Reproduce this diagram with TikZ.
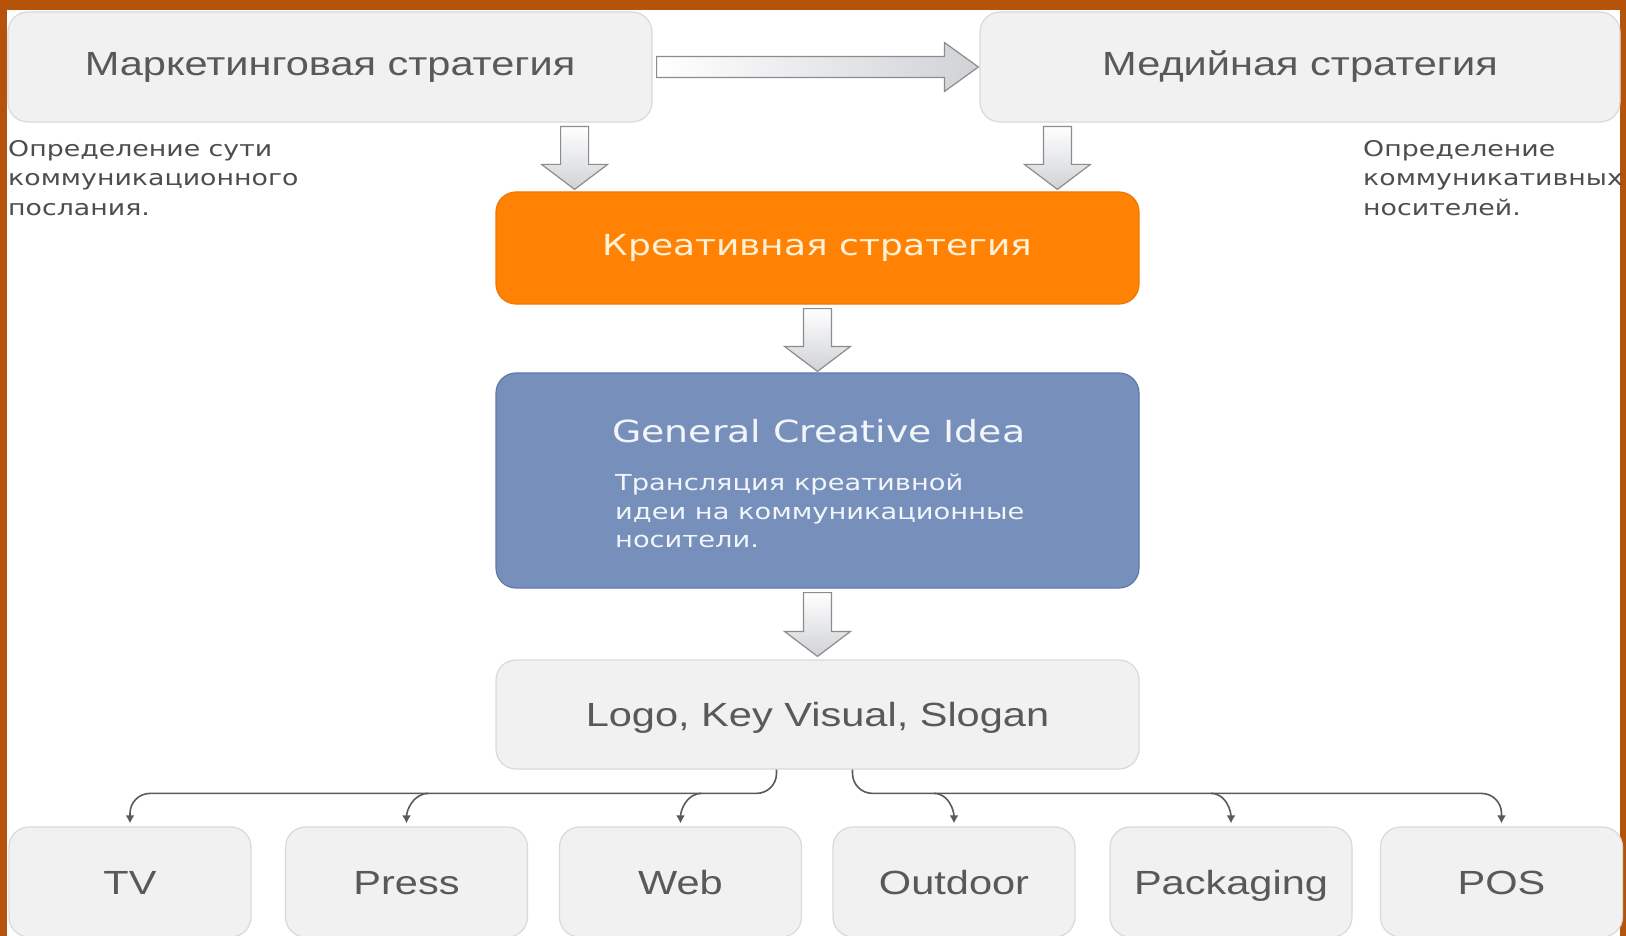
\documentclass[tikz,border=0pt]{standalone}
\usepackage{fontspec}
\setmainfont{Liberation Sans}[FakeStretch=1.24]
\newfontfamily\dejavu{DejaVu Sans}[FakeStretch=1.24]
\usepackage{tikz}
\usetikzlibrary{arrows.meta,calc,positioning}

\definecolor{bgorange}{HTML}{B5530B}
\definecolor{boxfill}{HTML}{F1F1F1}
\definecolor{boxline}{HTML}{D9D9D9}
\definecolor{labelgray}{HTML}{595959}
\definecolor{notegray}{HTML}{4D4D4D}
\definecolor{creativefill}{HTML}{FF8205}
\definecolor{creativeline}{HTML}{EC7800}
\definecolor{creativetext}{HTML}{FFF1D6}
\definecolor{gcifill}{HTML}{7690BB}
\definecolor{gciline}{HTML}{5F78A6}
\definecolor{gcitext}{HTML}{F2F5FA}
\definecolor{arrowline}{HTML}{8C8C8C}
\definecolor{arrowgray}{HTML}{D0D2D6}
\definecolor{connline}{HTML}{5A5A5A}

\tikzset{
  graybox/.style={draw=boxline, fill=boxfill, rounded corners=20pt, line width=1.2pt,
    inner sep=0pt, text=labelgray, font=\fontsize{33.5}{40}\selectfont},
  mediabox/.style={graybox, minimum width=242pt, minimum height=110pt,
    text height=24pt, text depth=0pt},
  creativebox/.style={draw=creativeline, fill=creativefill, rounded corners=20pt, line width=1.2pt,
    inner sep=0pt, minimum width=643pt, minimum height=112pt, text=creativetext,
    font=\dejavu\fontsize{29}{35}\selectfont},
  gcibox/.style={draw=gciline, fill=gcifill, rounded corners=20pt, line width=1.2pt,
    inner sep=0pt, minimum width=643pt, minimum height=215pt},
  gcititle/.style={inner sep=0pt, text=gcitext, font=\dejavu\fontsize{30.5}{36}\selectfont},
  gcibody/.style={inner sep=0pt, align=left, text=gcitext, font=\dejavu\fontsize{22}{28.5}\selectfont},
  notetext/.style={inner sep=0pt, align=left, text=notegray, font=\dejavu\fontsize{21.6}{29.5}\selectfont},
  blockarrow/.style={draw=arrowline, line width=1.2pt, line join=miter},
  conn/.style={draw=connline, line width=1.6pt, -{Latex[length=8pt,width=9pt]}, shorten >=3pt}
}

% hollow block arrows between two anchors
\newcommand{\blockdown}[2]{%
  \shadedraw[blockarrow, top color=white, bottom color=arrowgray]
    let \p1=(#1), \p2=(#2) in
    (\x1-14pt,\y1) -- (\x1+14pt,\y1) -- (\x1+14pt,\y2+25pt) -- (\x1+33pt,\y2+25pt)
    -- (\x1,\y2) -- (\x1-33pt,\y2+25pt) -- (\x1-14pt,\y2+25pt) -- cycle;}
\newcommand{\blockright}[2]{%
  \shadedraw[blockarrow, left color=white, middle color=white, right color=arrowgray]
    let \p1=(#1), \p2=(#2) in
    (\x1,\y1+10.5pt) -- (\x2-34pt,\y1+10.5pt) -- (\x2-34pt,\y1+24.5pt) -- (\x2,\y1)
    -- (\x2-34pt,\y1-24.5pt) -- (\x2-34pt,\y1-10.5pt) -- (\x1,\y1-10.5pt) -- cycle;}

\begin{document}
\begin{tikzpicture}[x=1pt,y=-1pt]
  \useasboundingbox (0,0) rectangle (1626,936);
  % frame of the slide
  \fill[bgorange] (0,0) rectangle (1626,936);
  \fill[white] (7,10) rectangle (1620,936);

  % strategies
  \node[graybox, minimum width=644pt, minimum height=110pt] (mkt) at (330,67) {Маркетинговая стратегия};
  \node[graybox, minimum width=640pt, minimum height=110pt] (media) at (1300,67) {Медийная стратегия};
  \node[notetext, anchor=north west] (mktnote) at (8,140) {Определение сути\\коммуникационного\\послания.};
  \node[notetext, anchor=north west] (medianote) at (1363,140) {Определение\\коммуникативных\\носителей.};

  \node[creativebox] (creative) at (817.5,248) {Креативная стратегия};
  \node[gcibox] (gci) at (817.5,480.5) {};
  \node[gcititle, anchor=west] (gcihead) at (612,431) {General Creative Idea};
  \node[gcibody, anchor=north west] (gcitext) at (615,474) {Трансляция креативной\\идеи на коммуникационные\\носители.};
  \node[graybox, minimum width=643pt, minimum height=109pt, text height=24pt, text depth=0pt] (logo) at (817.5,714.5) {Logo, Key Visual, Slogan};

  % carriers
  \node[mediabox] (tv) at (130,882) {TV};
  \node[mediabox] (press) at (406.5,882) {Press};
  \node[mediabox] (web) at (680.5,882) {Web};
  \node[mediabox] (outdoor) at (954,882) {Outdoor};
  \node[mediabox] (packaging) at (1231,882) {Packaging};
  \node[mediabox] (pos) at (1501.5,882) {POS};

  % block arrows
  \blockright{[xshift=4pt]mkt.east}{[xshift=-1pt]media.west}
  \blockdown{[xshift=-78pt,yshift=-4pt]mkt.south east}{[yshift=2pt]creative.north}
  \blockdown{[xshift=78pt,yshift=-4pt]media.south west}{[yshift=2pt]creative.north}
  \blockdown{[yshift=-4pt]creative.south}{[yshift=1pt]gci.north}
  \blockdown{[yshift=-4pt]gci.south}{[yshift=3pt]logo.north}

  % split to carriers
  \coordinate (lsplit) at ([xshift=-41pt]logo.south);
  \coordinate (rsplit) at ([xshift=35pt]logo.south);
  \draw[conn, rounded corners=20pt] (lsplit) |- ([yshift=33pt]tv.north) -- (tv.north);
  \draw[conn] ([xshift=22pt,yshift=33pt]press.north) to[out=180,in=90] (press.north);
  \draw[conn] ([xshift=21pt,yshift=33pt]web.north) to[out=180,in=90] (web.north);
  \draw[conn, rounded corners=20pt] (rsplit) |- ([yshift=33pt]pos.north) -- (pos.north);
  \draw[conn] ([xshift=-20pt,yshift=33pt]outdoor.north) to[out=0,in=90] (outdoor.north);
  \draw[conn] ([xshift=-20pt,yshift=33pt]packaging.north) to[out=0,in=90] (packaging.north);
\end{tikzpicture}
\end{document}
